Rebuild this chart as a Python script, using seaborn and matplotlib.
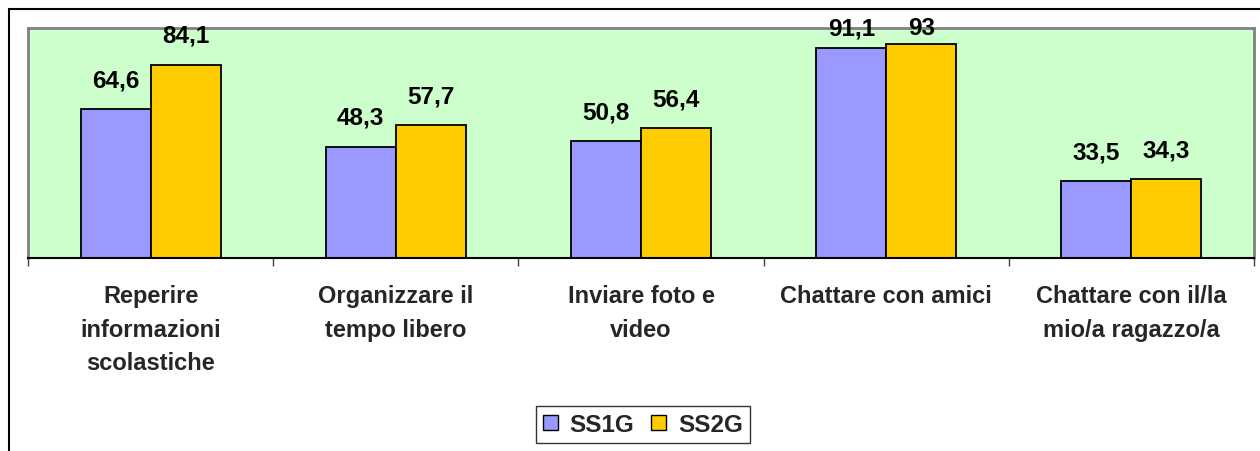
import matplotlib
matplotlib.use("Agg")
import matplotlib.pyplot as plt
import seaborn as sns
import pandas as pd
from matplotlib.patches import Rectangle, Patch

categories = ["Reperire\ninformazioni\nscolastiche", "Organizzare il\ntempo libero",
              "Inviare foto e\nvideo", "Chattare con amici",
              "Chattare con il/la\nmio/a ragazzo/a"]
series_names = ["SS1G", "SS2G"]
ss1g = [64.6, 48.3, 50.8, 91.1, 33.5]
ss2g = [84.1, 57.7, 56.4, 93.0, 34.3]
colors = ["#9999FF", "#FFCC00"]

rows = []
for c, a, b in zip(categories, ss1g, ss2g):
    rows.append({"cat": c, "serie": "SS1G", "val": a})
    rows.append({"cat": c, "serie": "SS2G", "val": b})
df = pd.DataFrame(rows)

sns.set_theme(style="white")
plt.rcParams["font.family"] = ["Liberation Sans", "DejaVu Sans"]
plt.rcParams["font.weight"] = "bold"

fig = plt.figure(figsize=(12.6, 4.52), dpi=100)
W, H = 1260, 452
ax = fig.add_axes([28 / W, 1 - 259 / H, (1254 - 28) / W, (259 - 29) / H])
ax.set_facecolor("#CCFFCC")

sns.barplot(data=df, x="cat", y="val", hue="serie", palette=colors,
            width=0.571, edgecolor="black", linewidth=1.3, saturation=1,
            ax=ax, legend=False)

ax.set_ylim(0, 100)
ax.set_xlim(-0.5, 4.5)
ax.set_yticks([])
ax.set_xlabel("")
ax.set_ylabel("")

for sp in ["top", "right", "left"]:
    ax.spines[sp].set_color("#808080")
    ax.spines[sp].set_linewidth(2)
ax.spines["bottom"].set_color("black")
ax.spines["bottom"].set_linewidth(1.5)

ax.set_xticks(range(len(categories)))
ax.set_xticklabels(categories, fontsize=17, fontweight="bold", linespacing=1.57)
ax.tick_params(axis="x", which="major", length=0, pad=19)
ax.set_xticks([i - 0.5 for i in range(len(categories) + 1)], minor=True)
ax.tick_params(axis="x", which="minor", length=6, width=1, color="#404040", bottom=True)

# value labels
for cont in ax.containers:
    for bar in cont:
        v = bar.get_height()
        y = min(v + 7.8, 95.0)
        ax.text(bar.get_x() + bar.get_width() / 2, y,
                f"{v:g}".replace(".", ","), ha="center", va="bottom",
                fontsize=17.5, fontweight="bold", color="black", clip_on=False)

handles = [Patch(facecolor=c, edgecolor="black", linewidth=1) for c in colors]
leg = fig.legend(handles, series_names, loc="center",
                 bbox_to_anchor=(643 / W, 1 - 425.5 / H), ncol=2,
                 frameon=True, fancybox=False, edgecolor="black",
                 prop={"size": 17.5, "weight": "bold"},
                 handlelength=0.6, handleheight=0.6, handletextpad=0.5,
                 columnspacing=0.7, borderpad=0.3, borderaxespad=0)
leg.get_frame().set_linewidth(1)

# outer chart frame
fig.patches.append(Rectangle((8.5 / W, -0.1), 1.2, 1 - 9.5 / H + 0.1,
                             transform=fig.transFigure, fill=False,
                             edgecolor="black", linewidth=1.5))

fig.savefig("out.png", dpi=100)
